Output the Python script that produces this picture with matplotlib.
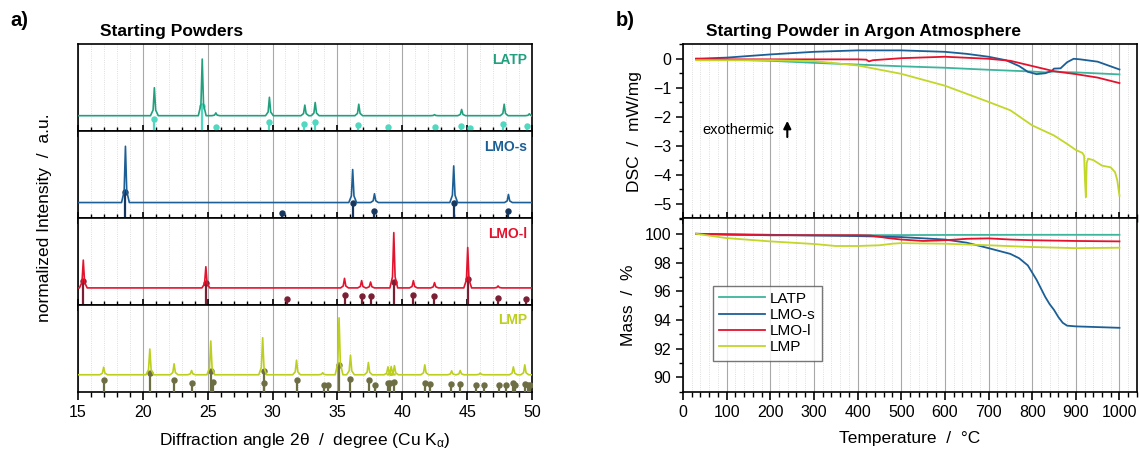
import numpy as np
import matplotlib
matplotlib.use("Agg")
import matplotlib.pyplot as plt
from matplotlib.ticker import MultipleLocator

plt.rcParams['font.family'] = ['Liberation Sans', 'DejaVu Sans']
plt.rcParams['mathtext.fontset'] = 'custom'
plt.rcParams['mathtext.rm'] = 'Liberation Sans'
plt.rcParams['mathtext.it'] = 'Liberation Sans:italic'

# ---- XRD: peak positions / normalized heights ----
latp_base = 0.178
latp_pk_x = [20.89, 24.58, 25.63, 29.76, 32.49, 33.29, 36.65, 42.49, 44.58, 47.86, 49.80]
latp_pk_y = [0.50, 0.83, 0.21, 0.39, 0.30, 0.33, 0.31, 0.19, 0.25, 0.31, 0.20]
latp_ref_x = [20.87, 24.58, 25.63, 29.71, 32.43, 33.29, 36.59, 38.88, 42.49, 44.52, 45.21, 47.80, 49.65]
latp_ref_y = [0.135, 0.29, 0.05, 0.108, 0.085, 0.108, 0.07, 0.046, 0.05, 0.054, 0.042, 0.077, 0.054]

lmos_base = 0.178
lmos_pk_x = [18.66, 36.18, 37.86, 43.97, 48.19]
lmos_pk_y = [0.826, 0.558, 0.279, 0.60, 0.271]
lmos_ref_x = [18.66, 30.73, 36.18, 37.83, 43.97, 48.13]
lmos_ref_y = [0.302, 0.062, 0.167, 0.078, 0.178, 0.078]

lmol_base = 0.195
lmol_pk_x = [15.41, 24.86, 35.55, 36.87, 37.56, 39.35, 40.86, 42.49, 45.05, 47.39]
lmol_pk_y = [0.515, 0.439, 0.305, 0.279, 0.263, 0.832, 0.279, 0.256, 0.66, 0.218]
lmol_ref_x = [15.41, 24.86, 31.08, 35.55, 36.87, 37.56, 39.35, 40.83, 42.46, 45.05, 47.39, 49.51]
lmol_ref_y = [0.279, 0.256, 0.065, 0.118, 0.107, 0.107, 0.26, 0.115, 0.099, 0.298, 0.076, 0.065]

lmp_base = 0.195
lmp_pk_x = [16.98, 20.54, 22.41, 23.76, 25.24, 29.24, 31.85, 33.87, 35.13, 36.01, 37.39,
            38.90, 39.15, 39.40, 41.74, 43.81, 44.47, 46.01, 48.57, 49.45]
lmp_pk_y = [0.282, 0.492, 0.321, 0.244, 0.584, 0.622, 0.363, 0.218, 0.851, 0.42, 0.336,
            0.286, 0.29, 0.30, 0.309, 0.24, 0.244, 0.215, 0.286, 0.309]
lmp_ref_x = [16.98, 20.59, 22.41, 23.76, 25.27, 25.38, 29.32, 29.38, 31.85, 33.95, 34.31,
             35.13, 36.01, 37.42, 37.89, 38.91, 39.07, 39.35, 41.74, 42.13, 43.76, 44.47,
             45.65, 46.29, 47.44, 47.97, 48.57, 48.68, 49.45, 49.67, 49.89]
lmp_ref_y = [0.13, 0.221, 0.13, 0.095, 0.237, 0.115, 0.233, 0.103, 0.137, 0.08, 0.076,
             0.313, 0.149, 0.13, 0.08, 0.103, 0.103, 0.107, 0.103, 0.084, 0.088, 0.088,
             0.08, 0.08, 0.08, 0.08, 0.095, 0.076, 0.088, 0.08, 0.08]

# ---- thermal analysis ----
t_latp = [30, 100, 200, 300, 400, 500, 600, 700, 800, 830, 850, 870, 900, 1000]
dsc_latp = [0, -0.03, -0.07, -0.14, -0.2, -0.26, -0.31, -0.38, -0.44, -0.47, -0.44, -0.46, -0.47, -0.54]
t_lmos = [30, 100, 200, 300, 400, 500, 600, 650, 700, 740, 770, 790, 810, 830, 845, 850,
          865, 880, 895, 910, 950, 1000]
dsc_lmos = [0, 0.04, 0.15, 0.24, 0.29, 0.29, 0.24, 0.17, 0.07, -0.05, -0.25, -0.45, -0.53,
            -0.50, -0.42, -0.34, -0.33, -0.12, 0.0, -0.02, -0.1, -0.37]
t_lmol = [30, 100, 200, 300, 400, 420, 426, 435, 500, 600, 700, 750, 800, 850, 900, 950, 1000]
dsc_lmol = [0, -0.02, -0.02, -0.02, -0.02, -0.03, -0.09, -0.05, 0.02, 0.07, 0.0, -0.07,
            -0.25, -0.43, -0.53, -0.65, -0.84]
t_lmp = [30, 100, 200, 300, 400, 500, 600, 700, 750, 800, 850, 880, 900, 915, 919, 921,
         923, 925, 928, 940, 960, 980, 990, 995, 1000]
dsc_lmp = [-0.05, -0.05, -0.05, -0.08, -0.23, -0.52, -0.93, -1.49, -1.78, -2.3, -2.65,
           -2.94, -3.15, -3.25, -3.35, -4.2, -4.78, -3.6, -3.45, -3.5, -3.69, -3.75, -3.92,
           -4.2, -4.73]

tm_latp = [30, 100, 200, 400, 600, 800, 1000]
m_latp = [100, 99.93, 99.9, 99.9, 99.92, 99.93, 99.93]
tm_lmos = [30, 100, 200, 300, 400, 500, 600, 650, 700, 750, 770, 790, 800, 810, 830, 840,
           850, 860, 870, 880, 900, 1000]
m_lmos = [100, 99.97, 99.93, 99.88, 99.84, 99.77, 99.6, 99.38, 99.0, 98.6, 98.3, 97.8,
          97.3, 96.8, 95.6, 95.1, 94.7, 94.2, 93.8, 93.6, 93.55, 93.45]
tm_lmol = [30, 100, 200, 300, 400, 430, 470, 500, 550, 600, 650, 700, 750, 800, 900, 1000]
m_lmol = [100, 99.95, 99.9, 99.9, 99.9, 99.88, 99.7, 99.6, 99.5, 99.55, 99.65, 99.68,
          99.6, 99.55, 99.5, 99.47]
tm_lmp = [30, 100, 200, 300, 350, 400, 450, 480, 500, 600, 700, 800, 900, 1000]
m_lmp = [100, 99.7, 99.47, 99.29, 99.15, 99.15, 99.2, 99.31, 99.35, 99.31, 99.2, 99.08, 99.0, 99.03]

names = ["LATP", "LMO-s", "LMO-l", "LMP"]
line_cols = ["#22a07e", "#1c5f96", "#e3132e", "#bccf1c"]
ref_cols = ["#50d8c0", "#17375f", "#7b1f35", "#6e6e45"]
tga_cols = ["#3fb49c", "#1c5f96", "#e3132e", "#c3d62a"]


def pattern(px, py, base):
    # connect baseline and peak maxima into a polyline
    xs, ys = [15.0], [base]
    for p, h in zip(px, py):
        xs += [p - 0.3, p - 0.1, p, p + 0.1, p + 0.3]
        ys += [base, base + 0.2 * (h - base), h, base + 0.2 * (h - base), base]
    xs.append(50.0)
    ys.append(base)
    return xs, ys


fig = plt.figure(figsize=(11.4, 4.49), dpi=100)

row_h = 0.19343
y0 = 0.12762
grid_major = dict(color="#a8a8a8", lw=0.8)
grid_minor = dict(color="#d4d4d4", lw=0.6, ls=":")

xrd = [(latp_pk_x, latp_pk_y, latp_base, latp_ref_x, latp_ref_y),
       (lmos_pk_x, lmos_pk_y, lmos_base, lmos_ref_x, lmos_ref_y),
       (lmol_pk_x, lmol_pk_y, lmol_base, lmol_ref_x, lmol_ref_y),
       (lmp_pk_x, lmp_pk_y, lmp_base, lmp_ref_x, lmp_ref_y)]

for i, (pkx, pky, base, rx, ry) in enumerate(xrd):
    ax = fig.add_axes([0.0684, y0 + (3 - i) * row_h, 0.3982, row_h])
    ax.set_xlim(15, 50)
    ax.set_ylim(0, 1)
    ax.xaxis.set_major_locator(MultipleLocator(5))
    ax.xaxis.set_minor_locator(MultipleLocator(1))
    ax.grid(True, which="major", axis="x", **grid_major)
    ax.grid(True, which="minor", axis="x", **grid_minor)
    ax.set_axisbelow(True)
    ax.set_yticks([])
    last = (i == 3)
    ax.tick_params(axis="x", which="major", direction="out" if last else "inout",
                   length=6 if last else 9, width=1.2, labelbottom=last, labelsize=11.5)
    ax.tick_params(axis="x", which="minor", direction="out" if last else "inout",
                   length=3.5 if last else 6, width=1.0)
    for s in ax.spines.values():
        s.set_linewidth(1.2)
    xs, ys = pattern(pkx, pky, base)
    ax.vlines(rx, 0, ry, color=ref_cols[i], lw=1.6, zorder=3)
    ax.plot(rx, ry, "o", color=ref_cols[i], ms=3.6, zorder=3)
    ax.plot(xs, ys, color=line_cols[i], lw=1.2, zorder=4)
    ax.text(0.99, 0.82, names[i], transform=ax.transAxes, ha="right", va="center",
            color=line_cols[i], fontsize=10, fontweight="bold")
    if i == 0:
        ax.set_title("Starting Powders", loc="left", x=0.048, fontsize=12.5,
                     fontweight="bold", pad=6)
    if last:
        ax.set_xlabel("Diffraction angle 2θ  /  degree (Cu K$_{\\mathrm{\\alpha}}$)",
                      fontsize=12.5, labelpad=8)

fig.text(0.5 * 0.0684 + 0.005, y0 + 2 * row_h, "normalized Intensity  /  a.u.",
         rotation=90, ha="center", va="center", fontsize=12.5)
fig.text(0.009, 0.955, "a)", fontsize=14.5, fontweight="bold", va="center")
fig.text(0.54, 0.955, "b)", fontsize=14.5, fontweight="bold", va="center")

# ---- DSC ----
ax1 = fig.add_axes([0.5991, y0 + 2 * row_h, 0.3982, 2 * row_h])
ax2 = fig.add_axes([0.5991, y0, 0.3982, 2 * row_h])
for ax in (ax1, ax2):
    ax.set_xlim(0, 1040)
    ax.xaxis.set_major_locator(MultipleLocator(100))
    ax.xaxis.set_minor_locator(MultipleLocator(20))
    ax.grid(True, which="major", axis="x", **grid_major)
    ax.grid(True, which="minor", axis="x", **grid_minor)
    ax.set_axisbelow(True)
    for s in ax.spines.values():
        s.set_linewidth(1.2)
    ax.tick_params(axis="y", which="major", direction="out", length=5, width=1.1, labelsize=11.5)
    ax.tick_params(axis="y", which="minor", direction="out", length=3, width=1.0)

ax1.set_ylim(-5.5, 0.5)
ax1.yaxis.set_major_locator(MultipleLocator(1))
ax1.yaxis.set_minor_locator(MultipleLocator(0.5))
ax1.tick_params(axis="x", which="major", direction="inout", length=9, width=1.2, labelbottom=False)
ax1.tick_params(axis="x", which="minor", direction="inout", length=6, width=1.0)
ax1.plot(t_latp, dsc_latp, color=tga_cols[0], lw=1.3)
ax1.plot(t_lmos, dsc_lmos, color=tga_cols[1], lw=1.3)
ax1.plot(t_lmol, dsc_lmol, color=tga_cols[2], lw=1.3)
ax1.plot(t_lmp, dsc_lmp, color=tga_cols[3], lw=1.3)
ax1.set_ylabel("DSC  /  mW/mg", fontsize=12.5, labelpad=8)
ax1.set_title("Starting Powder in Argon Atmosphere", loc="left", x=0.05, fontsize=12.5,
              fontweight="bold", pad=6)
ax1.text(45, -2.45, "exothermic", fontsize=10.5, va="center")
ax1.annotate("", xy=(239, -2.05), xytext=(239, -2.8),
             arrowprops=dict(arrowstyle="-|>", color="black", lw=1.5, mutation_scale=11))

# ---- Mass ----
ax2.set_ylim(89, 101.1)
ax2.yaxis.set_major_locator(MultipleLocator(2))
ax2.yaxis.set_minor_locator(MultipleLocator(1))
ax2.tick_params(axis="x", which="major", direction="out", length=6, width=1.2, labelsize=11.5)
ax2.tick_params(axis="x", which="minor", direction="out", length=3.5, width=1.0)
ax2.plot(tm_latp, m_latp, color=tga_cols[0], lw=1.3, label="LATP")
ax2.plot(tm_lmos, m_lmos, color=tga_cols[1], lw=1.3, label="LMO-s")
ax2.plot(tm_lmol, m_lmol, color=tga_cols[2], lw=1.3, label="LMO-l")
ax2.plot(tm_lmp, m_lmp, color=tga_cols[3], lw=1.3, label="LMP")
ax2.set_ylabel("Mass  /  %", fontsize=12.5, labelpad=6)
ax2.set_xlabel("Temperature  /  °C", fontsize=12.5, labelpad=8)
leg = ax2.legend(loc="lower left", bbox_to_anchor=(0.05, 0.135), fontsize=11,
                 frameon=True, fancybox=False, edgecolor="#555555", handlelength=3.0,
                 handletextpad=0.3, labelspacing=0.15, borderpad=0.4)
leg.get_frame().set_linewidth(1.0)

fig.savefig("out.png", dpi=100)
